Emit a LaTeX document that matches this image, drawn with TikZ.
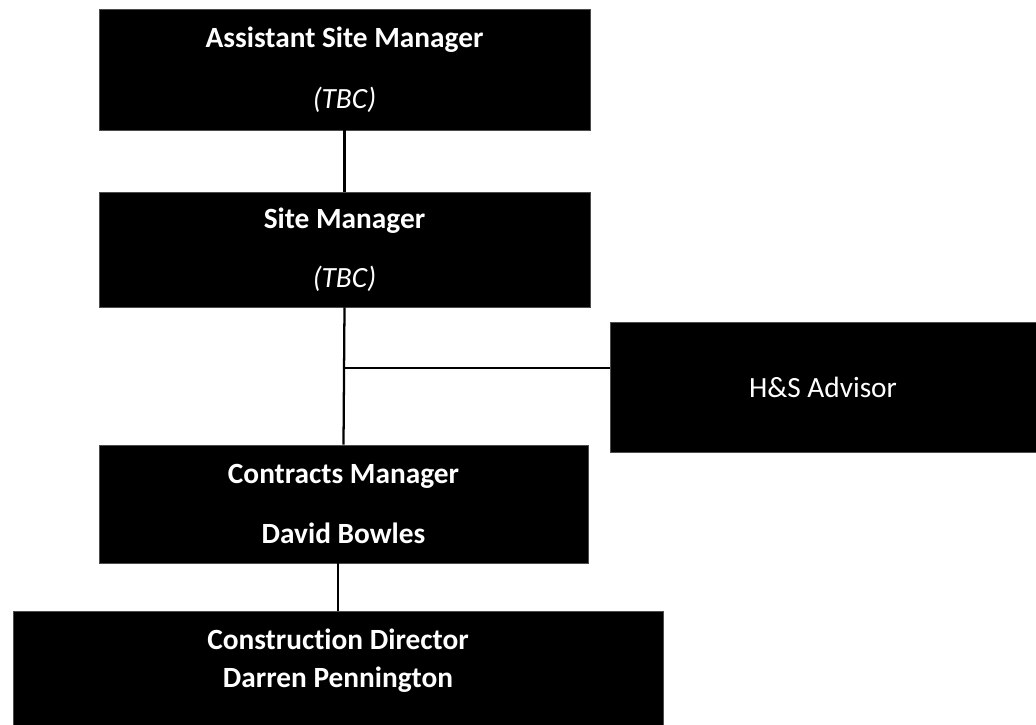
\documentclass[tikz,border=0pt]{standalone}
\usepackage{fontspec}
\setmainfont{Carlito}[Ligatures=NoCommon]
\usetikzlibrary{calc}

\begin{document}
\begin{tikzpicture}[x=0.75pt, y=-0.75pt,
        box/.style={fill=black, draw=black!70, text=white, align=center, inner sep=0pt, font=\fontsize{22}{26.4}\selectfont},
        link/.style={black, line width=1.7pt}]
            % Fix the page to the reference size
            \useasboundingbox (0,0) rectangle (1036,725);
            % Draw the boxes of the chart
            \node[box, minimum width=368.25pt, minimum height=90.75pt] (asm) at (344.5,69.5) {\textbf{Assistant Site Manager}\\[19pt]\textit{(TBC)}};
            \node[box, minimum width=368.25pt, minimum height=86.25pt] (sm) at (344.5,249.5) {\textbf{Site Manager}\\[18pt]\textit{(TBC)}};
            \node[box, minimum width=319.5pt, minimum height=97.5pt] (hs) at (823,387) {H\&S Advisor};
            \node[box, minimum width=366.75pt, minimum height=88.5pt] (cm) at (343.5,504) {\textbf{Contracts Manager}\\[19pt]\textbf{David Bowles}};
            \node[box, minimum width=487.5pt, minimum height=85.5pt, text depth=15pt] (cd) at (338,668) {\textbf{Construction Director}\\[2pt]\textbf{Darren Pennington}};

            % Draw the lines between the boxes
            \draw[link] (asm.south) -- (sm.north);
            \draw[link] (sm.south) -- (cm.north);
            \coordinate (tee) at ($(sm.south)!0.442!(cm.north)$);
            \draw[link, line width=1.1pt] (tee) -- (tee -| hs.west);
            \draw[link] (cd.north) -- (cd.north |- cm.south);
        \end{tikzpicture}
\end{document}
